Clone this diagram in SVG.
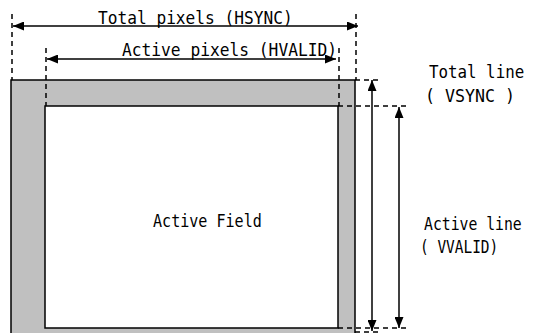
<svg xmlns="http://www.w3.org/2000/svg" width="534" height="333" viewBox="0 0 534 333">
<defs>
<marker id="ah" viewBox="0 0 11 9" refX="11" refY="4.5" markerWidth="11" markerHeight="9" markerUnits="userSpaceOnUse" orient="auto-start-reverse">
<path d="M0,0 L11,4.5 L0,9 Z" fill="#000"/>
</marker>
<style>
.dash{stroke:#000;stroke-width:1.5;stroke-dasharray:5 4;fill:none}
.arr{stroke:#000;stroke-width:1.5;fill:none;marker-start:url(#ah);marker-end:url(#ah)}
text{font-family:"DejaVu Sans Mono","Liberation Mono",monospace;font-size:18px;fill:#000}
</style>
</defs>
<g id="outer-frame"><rect x="11" y="80" width="344" height="262" fill="#C0C0C0" stroke="#000" stroke-width="1.5"/></g>
<g id="active-field"><rect x="45" y="106" width="293" height="222" fill="#fff" stroke="#000" stroke-width="1.5"/>
<text transform="translate(153,227) scale(0.85,1)" textLength="128" lengthAdjust="spacingAndGlyphs">Active Field</text></g>
<g id="connectors">
<line class="dash" x1="12" y1="14" x2="12" y2="80"/>
<line class="dash" x1="356" y1="14" x2="356" y2="80"/>
<line class="dash" x1="46" y1="48" x2="46" y2="106"/>
<line class="dash" x1="339" y1="48" x2="339" y2="106"/>
<line class="dash" x1="355" y1="80" x2="381" y2="80"/>
<line class="dash" x1="338" y1="106" x2="406" y2="106"/>
<line class="dash" x1="338" y1="328" x2="406" y2="328"/>
<line class="dash" x1="355" y1="332" x2="381" y2="332"/>
<line class="arr" x1="13" y1="26" x2="358" y2="26"/>
<line class="arr" x1="47" y1="59" x2="336" y2="59"/>
<line class="arr" x1="372" y1="80" x2="372" y2="331"/>
<line class="arr" x1="399" y1="107" x2="399" y2="328"/>
</g>
<g id="label-total-pixels"><text transform="translate(98,24) scale(0.85,1)" textLength="229" lengthAdjust="spacingAndGlyphs">Total pixels (HSYNC)</text></g>
<g id="label-active-pixels"><text transform="translate(122,56) scale(0.85,1)" textLength="253" lengthAdjust="spacingAndGlyphs">Active pixels (HVALID)</text></g>
<g id="label-total-line"><text transform="translate(429,78) scale(0.85,1)" textLength="112" lengthAdjust="spacingAndGlyphs">Total line</text>
<text transform="translate(425,102) scale(0.85,1)" textLength="106" lengthAdjust="spacingAndGlyphs">( VSYNC )</text></g>
<g id="label-active-line"><text transform="translate(424,230) scale(0.85,1)" textLength="115" lengthAdjust="spacingAndGlyphs">Active line</text>
<text transform="translate(420,253) scale(0.85,1)" textLength="92" lengthAdjust="spacingAndGlyphs">( VVALID)</text></g>
</svg>
